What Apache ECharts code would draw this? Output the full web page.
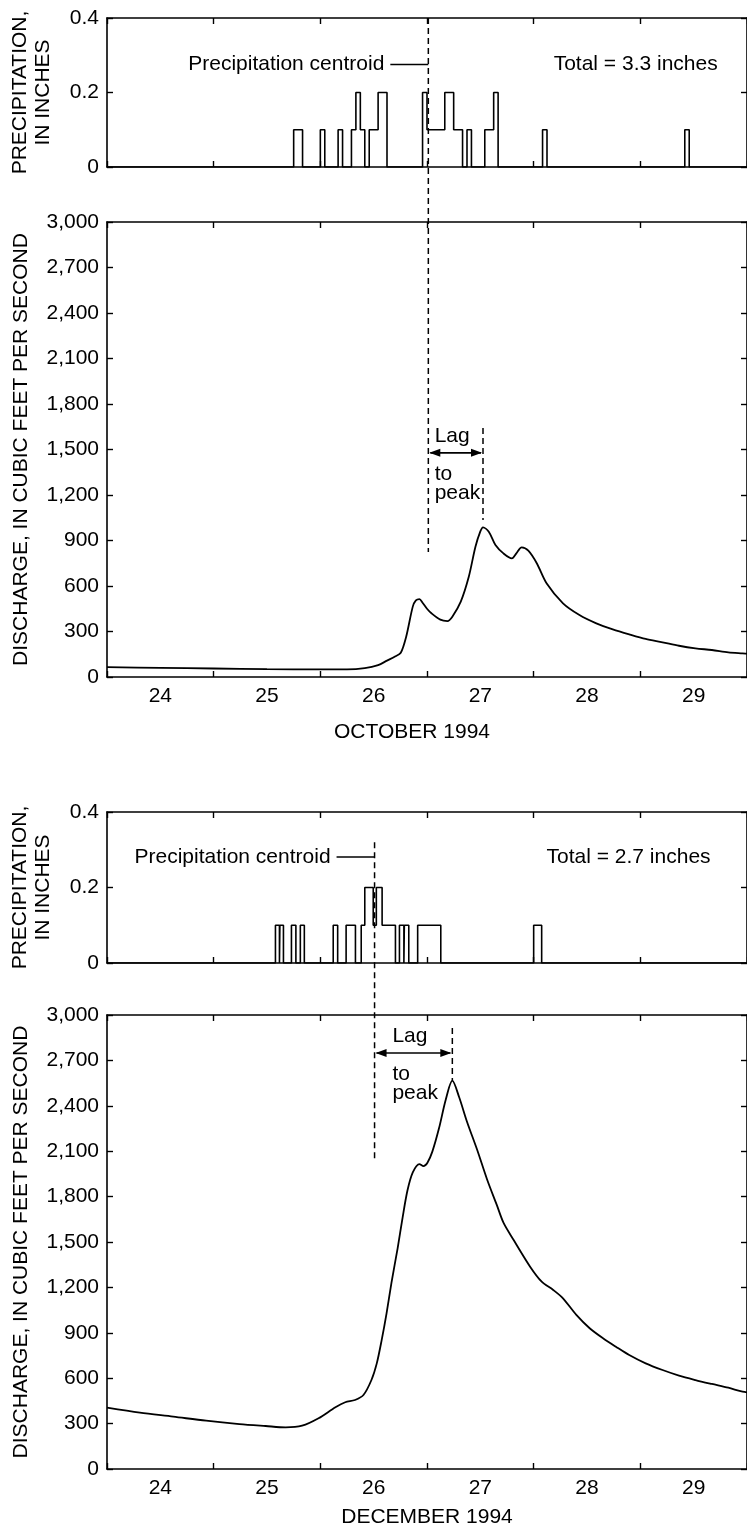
<!DOCTYPE html>
<html><head><meta charset="utf-8">
<script src="https://cdn.jsdelivr.net/npm/echarts@6/dist/echarts.min.js"></script>
<style>html,body{margin:0;padding:0;background:#fff;}#c{width:747px;height:1531px;}</style>
</head><body><div id="c"></div>
<script>
// ---- data (x in hours since 00:00 on the 24th) ----
const dayLabels = ['24','25','26','27','28','29'];

// October precipitation intervals (hours) and depth (inches)
const octPStart = [42, 48, 52, 55, 56, 57, 59, 61, 71, 72, 76, 78, 81, 85, 87, 98, 130];
const octPEnd   = [44, 49, 53, 56, 57, 58, 61, 63, 72, 76, 78, 80, 82, 87, 88, 99, 131];
const octPVal   = [0.1,0.1,0.1,0.1,0.2,0.1,0.1,0.2,0.2,0.1,0.2,0.1,0.1,0.1,0.2,0.1,0.1];

// December precipitation intervals
const decPStart = [37.9, 38.9, 41.5, 43.5, 50.9, 53.8, 57.2, 58, 59.9, 60.6, 61.9, 65.8, 66.9, 69.9, 96];
const decPEnd   = [38.8, 39.7, 42.5, 44.4, 51.9, 55.9, 58, 59.9, 60.6, 61.9, 64.9, 66.8, 67.9, 75.1, 97.8];
const decPVal   = [0.1, 0.1, 0.1, 0.1, 0.1, 0.1, 0.1, 0.2, 0.1, 0.2, 0.1, 0.1, 0.1, 0.1, 0.1];

// October discharge (cfs)
const octQHour = [0, 12, 24, 36, 48, 54, 58, 61, 63, 64.8, 66.1, 67.3, 68.8, 69.5, 70.3, 71, 72, 73, 75, 76.6, 77.7, 79.6, 81.4, 82.9, 84, 84.6, 85.9, 87.4, 89.2, 91.1, 92.1, 93.3, 94.8, 96.7, 98.9, 102.6, 106.3, 110.1, 113.8, 117.5, 121.2, 125, 128.7, 132.4, 136.1, 139.8, 143, 144.5];
const octQ     = [65, 60, 56, 52, 50, 50, 58, 78, 108, 135, 160, 264, 464, 505, 514, 490, 450, 420, 378, 369, 398, 497, 661, 859, 960, 987, 958, 870, 815, 782, 815, 855, 833, 750, 618, 486, 409, 354, 314, 281, 251, 229, 206, 189, 178, 163, 156, 153];

// December discharge (cfs)
const decQHour = [0, 7.4, 14.9, 22.3, 29.8, 35.7, 40.2, 43.9, 47.6, 51.4, 53.6, 55.8, 57.7, 59.5, 60.7, 61.8, 62.9, 64, 65.4, 66.5, 67.6, 68.8, 70.3, 71.2, 72.1, 73.2, 74.7, 76.2, 77.7, 79.2, 81, 83.3, 85.5, 87.7, 89.2, 91.5, 95.2, 97.8, 100.4, 102.6, 105.6, 108.6, 111.6, 114.5, 117.5, 121.2, 125, 128.7, 132.4, 136.1, 139.8, 143, 144.5];
const decQ     = [405, 372, 346, 319, 297, 284, 275, 286, 335, 408, 441, 456, 489, 588, 698, 852, 1029, 1230, 1460, 1660, 1840, 1960, 2015, 2002, 2024, 2097, 2251, 2438, 2566, 2460, 2295, 2108, 1915, 1745, 1628, 1513, 1337, 1238, 1183, 1128, 1018, 930, 864, 808, 753, 698, 654, 617, 588, 562, 537, 511, 505];

// annotation values
const centroidHour = [72.3, 60.2];
const peakHour     = [84.6, 77.7];
const centroidTopIn = [0.4, 0.32];
const centroidBottomCfs = [824, 2042];
const peakTopCfs = [1642, 2914];
const peakBottomCfs = [1035, 2570];
const lagArrowCfs = [1478, 2749];
const labelIn = [0.275, 0.281];
const totalHour = [100.5, 98.9];
const totalText = ['Total = 3.3 inches', 'Total = 2.7 inches'];
const monthTitles = ['OCTOBER 1994', 'DECEMBER 1994'];

// ---- helpers ----
const FONT = '"Liberation Sans", Arial, Helvetica, sans-serif';
const FS = 21;
function precipPath(starts, ends, vals) {
  const pts = [[0, 0]];
  let prevEnd = null;
  for (let i = 0; i < starts.length; i++) {
    const s = starts[i], e = ends[i], v = vals[i];
    if (prevEnd !== null && s === prevEnd) { pts.push([s, v]); }
    else { pts.push([s, 0]); pts.push([s, v]); }
    pts.push([e, v]);
    if (starts[i + 1] !== e) pts.push([e, 0]);
    prevEnd = e;
  }
  pts.push([144, 0]);
  return pts;
}
function zip(a, b) { return a.map((x, i) => [x, b[i]]); }
function fmtQ(v) { return v === 0 ? '0' : v.toLocaleString('en-US'); }
function fmtP(v) { return v === 0 ? '0' : v.toFixed(1); }

const grids = [
  { left: 107, width: 645, top: 18, height: 149 },
  { left: 107, width: 645, top: 222, height: 455 },
  { left: 107, width: 645, top: 812, height: 151 },
  { left: 107, width: 645, top: 1015, height: 454 }
];
const axisLine = { show: true, lineStyle: { color: '#000', width: 1.6 } };
const tick = { show: true, inside: true, length: 6, lineStyle: { color: '#000', width: 1.4 } };

const xAxes = [], yAxes = [];
grids.forEach((g, i) => {
  const isQ = i % 2 === 1;
  xAxes.push({ type: 'value', gridIndex: i, min: 0, max: 144, show: false });
  xAxes.push({ type: 'category', gridIndex: i, data: dayLabels, boundaryGap: true, position: 'bottom',
    axisLine, axisTick: Object.assign({ alignWithLabel: false }, tick),
    axisLabel: { show: isQ, color: '#000', fontSize: FS, fontFamily: FONT, margin: 9 },
    splitLine: { show: false } });
  xAxes.push({ type: 'category', gridIndex: i, data: dayLabels, boundaryGap: true, position: 'top',
    axisLine, axisTick: tick, axisLabel: { show: false }, splitLine: { show: false } });
  const yBase = isQ ? { min: 0, max: 3000, interval: 300 } : { min: 0, max: 0.4, interval: 0.2 };
  yAxes.push(Object.assign({ type: 'value', gridIndex: i, position: 'left', axisLine, axisTick: tick,
    splitLine: { show: false },
    axisLabel: { color: '#000', fontSize: FS, fontFamily: FONT, margin: 8, formatter: isQ ? fmtQ : fmtP },
    name: isQ ? 'DISCHARGE, IN CUBIC FEET PER SECOND' : 'PRECIPITATION,\nIN INCHES',
    nameLocation: 'middle', nameRotate: 90, nameGap: isQ ? 74 : 52,
    nameTextStyle: { color: '#000', fontSize: FS, fontFamily: FONT, lineHeight: 23 } }, yBase));
  yAxes.push(Object.assign({ type: 'value', gridIndex: i, position: 'right', axisLine, axisTick: tick,
    splitLine: { show: false }, axisLabel: { show: false } }, yBase));
});

const lineBase = { type: 'line', showSymbol: false, symbol: 'none', silent: true, animation: false };
const series = [
  Object.assign({}, lineBase, { xAxisIndex: 0, yAxisIndex: 0, data: precipPath(octPStart, octPEnd, octPVal), lineStyle: { color: '#000', width: 1.6 } }),
  Object.assign({}, lineBase, { xAxisIndex: 3, yAxisIndex: 2, data: zip(octQHour, octQ), smooth: 0.3, lineStyle: { color: '#000', width: 1.8 } }),
  Object.assign({}, lineBase, { xAxisIndex: 6, yAxisIndex: 4, data: precipPath(decPStart, decPEnd, decPVal), lineStyle: { color: '#000', width: 1.6 } }),
  Object.assign({}, lineBase, { xAxisIndex: 9, yAxisIndex: 6, data: zip(decQHour, decQ), smooth: 0.3, lineStyle: { color: '#000', width: 1.8 } })
];

const chart = echarts.init(document.getElementById('c'), null, { renderer: 'canvas' });
chart.setOption({ animation: false, backgroundColor: '#fff', grid: grids, xAxis: xAxes, yAxis: yAxes, series });

// ---- annotations placed through the chart's own scales ----
const graphics = [];
const dash = { stroke: '#000', lineWidth: 1.5, lineDash: [6, 4] };
function txt(x, y, text, align) {
  graphics.push({ type: 'text', x, y, silent: true,
    style: { text, fill: '#000', fontSize: FS, fontFamily: FONT, align: align || 'left', verticalAlign: 'middle' } });
}
function arrowHead(x, y, dir) {
  graphics.push({ type: 'polygon', silent: true, shape: { points: [[x, y], [x - dir * 11, y - 4], [x - dir * 11, y + 4]] }, style: { fill: '#000' } });
}
[0, 1].forEach(m => {
  const pS = m * 2, qS = m * 2 + 1;
  const P = (h, v) => chart.convertToPixel({ seriesIndex: pS }, [h, v]);
  const Q = (h, v) => chart.convertToPixel({ seriesIndex: qS }, [h, v]);
  const cTop = P(centroidHour[m], centroidTopIn[m]);
  const cBot = Q(centroidHour[m], centroidBottomCfs[m]);
  graphics.push({ type: 'line', silent: true, shape: { x1: cTop[0], y1: cTop[1], x2: cBot[0], y2: cBot[1] }, style: dash });
  const pkTop = Q(peakHour[m], peakTopCfs[m]);
  const pkBot = Q(peakHour[m], peakBottomCfs[m]);
  graphics.push({ type: 'line', silent: true, shape: { x1: pkTop[0], y1: pkTop[1], x2: pkBot[0], y2: pkBot[1] }, style: dash });
  // lag arrow
  const a1 = Q(centroidHour[m], lagArrowCfs[m]);
  const a2 = Q(peakHour[m], lagArrowCfs[m]);
  graphics.push({ type: 'line', silent: true, shape: { x1: a1[0] + 2, y1: a1[1], x2: a2[0] - 2, y2: a2[1] }, style: { stroke: '#000', lineWidth: 1.6 } });
  arrowHead(a1[0] + 1, a1[1], -1);
  arrowHead(a2[0] - 1, a2[1], 1);
  const mid = (a1[0] + a2[0]) / 2;
  txt(mid - 21, a1[1] - 17, 'Lag');
  txt(mid - 21, a1[1] + 21, 'to');
  txt(mid - 21, a1[1] + 40, 'peak');
  // centroid label
  const lp = P(centroidHour[m], labelIn[m]);
  graphics.push({ type: 'line', silent: true, shape: { x1: lp[0] - 38, y1: lp[1], x2: lp[0], y2: lp[1] }, style: { stroke: '#000', lineWidth: 1.5 } });
  txt(lp[0] - 44, lp[1], 'Precipitation centroid', 'right');
  const tp = P(totalHour[m], labelIn[m]);
  txt(tp[0], tp[1], totalText[m]);
  // month title
  const base = Q(72, 0);
  txt(m === 0 ? 412 : 427, base[1] + (m === 0 ? 55 : 48), monthTitles[m], 'center');
});
chart.setOption({ graphic: graphics });
</script></body></html>
